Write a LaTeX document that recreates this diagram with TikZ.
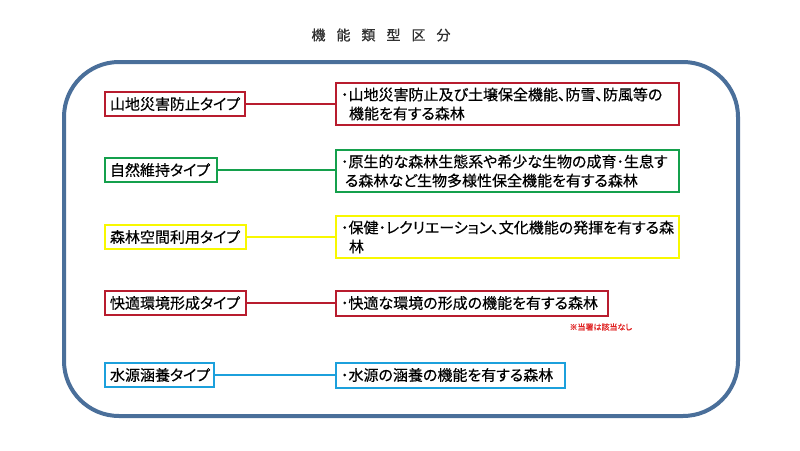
\documentclass[tikz,border=0pt]{standalone}
\usepackage{fontspec}
\newfontfamily\jp[RawFeature=+palt,FakeBold=0.4]{Noto Sans CJK JP}
\newfontfamily\jpt[FakeBold=0.7]{Noto Sans CJK JP}
\definecolor{cred}{HTML}{B81C2E}
\definecolor{cgreen}{HTML}{14A04C}
\definecolor{cyellow}{HTML}{F8F800}
\definecolor{cblue}{HTML}{1CA0DC}
\definecolor{cframe}{HTML}{4A6F9A}
\definecolor{ctitle}{HTML}{303030}
\definecolor{cnote}{HTML}{E02020}
\begin{document}
\begin{tikzpicture}[x=1pt,y=-1pt,
  typebox/.style={draw=#1,line width=2pt,fill=white,inner xsep=5pt,inner ysep=0pt,minimum height=24pt,anchor=west,align=left,font=\jp\fontsize{15}{17}\selectfont},
  descbox/.style={draw=#1,line width=2pt,fill=white,inner xsep=5pt,inner ysep=3pt,minimum height=25pt,anchor=west,align=left,font=\jp\fontsize{15}{19}\selectfont},
  link/.style={draw=#1,line width=2pt}]
\useasboundingbox[fill=white] (0,0) rectangle (800,450);
\node[font=\jpt\fontsize{14}{16}\selectfont,text=ctitle] (title) at (381,35) {機\hspace{11pt}能\hspace{11pt}類\hspace{11pt}型\hspace{11pt}区\hspace{11pt}分};
\draw[cframe,line width=4pt,rounded corners=55pt] (64,62) rectangle (738,416);
% row 1
\node[typebox=cred,text width=130pt] (t1) at (104,104) {山地災害防止タイプ};
\node[descbox=cred,text width=333pt,minimum height=42pt] (d1) at (335,104) {･山地災害防止及び土壌保全機能、防雪、防風等の\\\hspace*{8pt}機能を有する森林};
\draw[link=cred] (t1.east) -- (d1.west);
% row 2
\node[typebox=cgreen,text width=102pt] (t2) at (104,170) {自然維持タイプ};
\node[descbox=cgreen,text width=333pt,minimum height=42pt] (d2) at (335,171) {･原生的な森林生態系や希少な生物の成育･生息す\\\hspace*{4pt}る森林など生物多様性保全機能を有する森林};
\draw[link=cgreen] (t2.east) -- (t2.east -| d2.west);
% row 3
\node[typebox=cyellow,text width=131pt] (t3) at (104,237) {森林空間利用タイプ};
\node[descbox=cyellow,text width=333pt,minimum height=42pt] (d3) at (335,237) {･保健･レクリエーション、文化機能の発揮を有する森\\\hspace*{8pt}林};
\draw[link=cyellow] (t3.east) -- (t3.east -| d3.west);
% row 4
\node[typebox=cred,text width=131pt] (t4) at (104,303) {快適環境形成タイプ};
\node[descbox=cred,text width=262pt] (d4) at (335,303) {･快適な環境の形成の機能を有する森林};
\draw[link=cred] (t4.east) -- (d4.west);
\node[font=\jp\fontsize{8}{9}\selectfont,text=cnote,anchor=west] (note) at (566,327) {※当署は該当なし};
% row 5
\node[typebox=cblue,text width=99pt] (t5) at (104,375) {水源涵養タイプ};
\node[descbox=cblue,text width=219pt] (d5) at (335,375) {･水源の涵養の機能を有する森林};
\draw[link=cblue] (t5.east) -- (d5.west);
\end{tikzpicture}
\end{document}
